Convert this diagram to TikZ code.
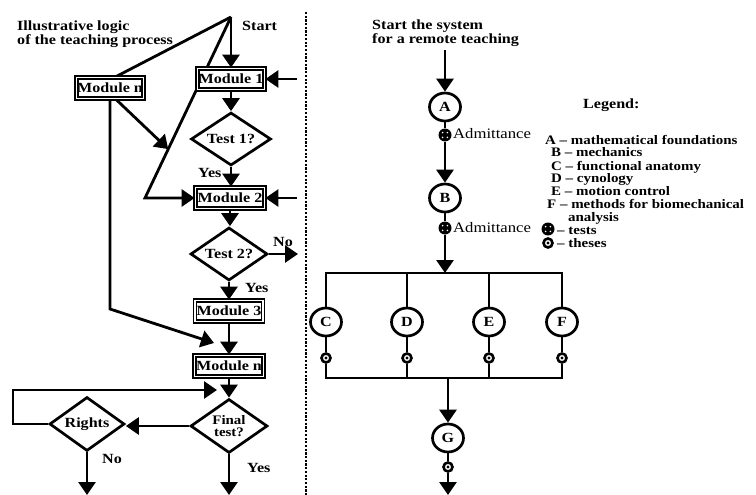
\documentclass[tikz,border=0pt]{standalone}
\usepackage{fontspec}
\setmainfont{Liberation Serif}[FakeStretch=1.15]
\usetikzlibrary{arrows.meta,shapes.geometric,calc,backgrounds}
\newcommand\myfb{\fontsize{14pt}{14pt}\selectfont\bfseries}
\newcommand\myfl{\fontsize{13pt}{13pt}\selectfont\bfseries}
\newcommand\myfr{\fontsize{14.5pt}{15pt}\selectfont}
\begin{document}
\begin{tikzpicture}[x=1pt,y=-1pt,
  mbox/.style={draw, double, line width=1.8pt, double distance=1.2pt, fill=white,
    minimum width=67pt, minimum height=21pt, inner sep=0pt, font=\myfb},
  dia/.style={diamond, draw, line width=2.7pt, fill=white, inner sep=0pt, aspect=1.5, font=\myfb},
  circ/.style={ellipse, draw, line width=2.7pt, fill=white, minimum width=31pt,
    minimum height=28pt, inner sep=0pt, font=\myfb},
  ln/.style={line width=2.8pt},
  arr/.style={line width=2.8pt, -{Triangle[length=13pt,width=17pt]}},
  sep/.style={line width=2.4pt, dash pattern=on 2.2pt off 1.5pt},
  tst/.style={circle, fill=black, minimum size=13pt, inner sep=0pt,
    path picture={\foreach \dx/\dy in {-2.4/-2.4,2.4/-2.4,-2.4/2.4,2.4/2.4}{
      \fill[white] ([shift={(\dx,\dy)}]path picture bounding box.center) circle (0.9pt);}}},
  ths/.style={circle, draw, line width=2.6pt, fill=white, minimum size=9pt, inner sep=0pt,
    path picture={\fill[black] (path picture bounding box.center) circle (1.6pt);}},
  lbl/.style={font=\myfb, inner sep=0pt, anchor=base west},
  lgd/.style={font=\myfl, inner sep=0pt, anchor=base west},
  lbr/.style={font=\myfr, inner sep=0pt, anchor=base west}
]
\useasboundingbox (0,0) rectangle (756,495);

% ---------------- left: teaching logic ----------------
\node[font=\myfb, align=left, anchor=north west, inner sep=0pt] (title) at (17,21)
  {Illustrative logic\\of the teaching process};
\coordinate (apex) at (231,17);
\node[lbl] (start) at (242,31) {Start};

\node[mbox] (m1) at (231,79) {Module 1};
\node[mbox] (mn1) at (110,88) {Module n};
\node[dia, minimum width=80pt, minimum height=53pt] (t1) at (231,139) {Test 1?};
\node[mbox, minimum width=69pt] (m2) at (230,198) {Module 2};
\node[dia, minimum width=77pt, minimum height=53pt] (t2) at (229,254) {Test 2?};
\node[mbox, minimum width=68pt] (m3) at (229,311) {Module 3};
\node[mbox, minimum width=69pt] (mn2) at (229,366) {Module n};
\node[dia, minimum width=77pt, minimum height=54pt, align=center,
  font=\fontsize{13pt}{12pt}\selectfont\bfseries] (ft) at (229,426) {Final\\test?};
\node[dia, minimum width=75pt, minimum height=54pt] (rt) at (87,424) {Rights};

\node[lbl] (yes1) at (198,177) {Yes};
\node[lbl] (no1) at (273,246) {No};
\node[lbl] (yes2) at (245,292) {Yes};
\node[lbl] (no2) at (102,463) {No};
\node[lbl] (yes3) at (247,472) {Yes};

\coordinate (c1) at (145,198);
\coordinate (j1) at ($(apex)!0.73!(c1)$);
\coordinate (c2) at (110,309);
\coordinate (j2) at (214,343);
\coordinate (r1) at (297,79);
\coordinate (r2) at (297,198);
\coordinate (r3) at (298,254);
\coordinate (l1) at (13,424);
\coordinate (l2) at (13,390);
\coordinate (j3) at (217,390);
\coordinate (b1) at (87,495);
\coordinate (b2) at (229,495);

% separator
\coordinate (sp1) at (306,12);
\coordinate (sp2) at (306,495);

% ---------------- right: remote teaching ----------------
\node[font=\myfb, align=left, anchor=north west, inner sep=0pt] (st) at (372,20)
  {Start the system\\for a remote teaching};
\coordinate (s0) at (445,50);
\node[circ] (A) at (445,107) {A};
\node[tst] (x1) at (445,135) {};
\node[lbr] (ad1) at (453,139) {Admittance};
\node[circ] (B) at (445,198) {B};
\node[tst] (x2) at (445,228) {};
\node[lbr] (ad2) at (453,232) {Admittance};
\coordinate (bus) at (445,273);
\coordinate (busy) at (0,273);
\coordinate (boty) at (0,378);

\node[circ] (C) at (326,322) {C};
\node[circ] (D) at (407,322) {D};
\node[circ] (E) at (489,322) {E};
\node[circ] (F) at (562,322) {F};
\node[ths] (hc) at (326,358) {};
\node[ths] (hd) at (407,358) {};
\node[ths] (he) at (489,358) {};
\node[ths] (hf) at (562,358) {};

\coordinate (g0) at (448,378);
\node[circ] (G) at (448,438) {G};
\node[ths] (hg) at (448,467) {};
\coordinate (gend) at (448,495);

% legend
\node[lbl] (lg) at (583,109) {Legend:};
\node[lgd] (la) at (545,144) {A -- mathematical foundations};
\node[lgd] (lb) at (551,157) {B -- mechanics};
\node[lgd] (lc) at (551,170) {C -- functional anatomy};
\node[lgd] (ld) at (551,182.5) {D -- cynology};
\node[lgd] (le) at (551,195) {E -- motion control};
\node[lgd] (lf) at (547,208) {F -- methods for biomechanical};
\node[lgd] (lf2) at (568,221) {analysis};
\node[tst] (lt) at (548,229) {};
\node[lgd] (ltt) at (557,234) {-- tests};
\node[ths] (lh) at (548,243) {};
\node[lgd] (lht) at (557,247) {-- theses};

% ---------------- connectors ----------------
\begin{pgfonlayer}{background}
\fill[white] (0,0) rectangle (756,495);
\draw[arr] (apex) -- (apex |- m1.north);
\draw[ln] (apex) -- ([xshift=6pt]mn1.north);
\draw[arr] (apex) -- (c1) -- (m2.west);
\draw[arr] ([xshift=6pt]mn1.south) -- (j1);
\draw[arr] (mn1.south) -- (c2) -- (j2);
\draw[arr] (m1.south) -- (m1.south |- t1.north);
\draw[arr] (t1.south) -- (t1.south |- m2.north);
\draw[arr] (m2.south) -- (m2.south |- t2.north);
\draw[arr] (t2.south) -- (t2.south |- m3.north);
\draw[arr] (m3.south) -- (m3.south |- mn2.north);
\draw[arr] (mn2.south) -- (mn2.south |- ft.north);
\draw[arr] (r1) -- (m1.east);
\draw[arr] (r2) -- (m2.east);
\draw[arr] (t2.east) -- (r3);
\draw[arr] (rt.west) -- (l1) -- (l2) -- (j3);
\draw[arr] (ft.west) -- (ft.west -| rt.east);
\draw[arr] (rt.south) -- (b1);
\draw[arr] (ft.south) -- (b2);
\draw[sep] (sp1) -- (sp2);

\draw[arr] (s0) -- (A.north);
\draw[ln] (A) -- (x1);
\draw[arr] (x1) -- (B.north);
\draw[ln] (B) -- (x2);
\draw[arr] (x2) -- (bus);
\draw[ln] (C.north) -- (C.north |- busy) -- (F.north |- busy) -- (F.north);
\draw[ln] (D.north) -- (D.north |- busy);
\draw[ln] (E.north) -- (E.north |- busy);
\draw[ln] (C) -- (hc); \draw[ln] (D) -- (hd); \draw[ln] (E) -- (he); \draw[ln] (F) -- (hf);
\draw[ln] (hc) -- (hc |- boty) -- (hf |- boty) -- (hf);
\draw[ln] (hd) -- (hd |- boty);
\draw[ln] (he) -- (he |- boty);
\draw[arr] (g0) -- (G.north);
\draw[ln] (G) -- (hg);
\draw[arr] (hg) -- (gend);
\end{pgfonlayer}
\end{tikzpicture}
\end{document}
